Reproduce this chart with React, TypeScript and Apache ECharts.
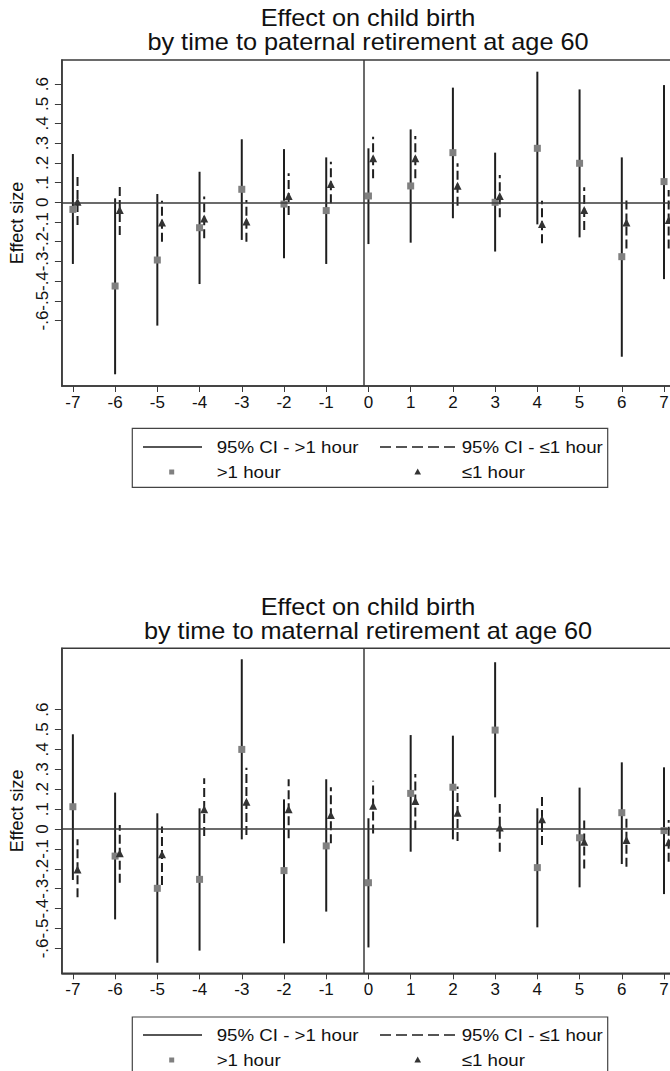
import React, { useEffect, useRef } from "react";
import * as echarts from "echarts";

// ---------- data ----------
const xValues = [-7, -6, -5, -4, -3, -2, -1, 0, 1, 2, 3, 4, 5, 6, 7];
const xTickValues = [-7, -6, -5, -4, -3, -2, -1, 0, 1, 2, 3, 4, 5, 6, 7];
const yTickValues = [-0.6, -0.5, -0.4, -0.3, -0.2, -0.1, 0, 0.1, 0.2, 0.3, 0.4, 0.5, 0.6];

const titleTop = ["Effect on child birth", "by time to paternal retirement at age 60"];
const titleBottom = ["Effect on child birth", "by time to maternal retirement at age 60"];
const legendLabels = ["95% CI - >1 hour", "95% CI - \u22641 hour", ">1 hour", "\u22641 hour"];

// Paternal retirement (top panel)
const patMoreEst = [-0.036, -0.425, -0.293, -0.129, 0.066, -0.009, -0.042, 0.032, 0.083, 0.252, 0.0, 0.274, 0.198, -0.276, 0.105];
const patMoreLo = [-0.313, -0.873, -0.626, -0.415, -0.191, -0.284, -0.313, -0.212, -0.205, -0.081, -0.25, -0.112, -0.178, -0.784, -0.39];
const patMoreHi = [0.245, 0.02, 0.042, 0.155, 0.32, 0.27, 0.228, 0.274, 0.37, 0.582, 0.252, 0.663, 0.573, 0.228, 0.595];
const patLessEst = [0.003, -0.039, -0.103, -0.082, -0.098, 0.032, 0.093, 0.223, 0.223, 0.084, 0.032, -0.11, -0.039, -0.103, -0.09];
const patLessLo = [-0.115, -0.166, -0.2, -0.183, -0.2, -0.064, -0.005, 0.122, 0.122, -0.017, -0.076, -0.208, -0.141, -0.234, -0.234];
const patLessHi = [0.13, 0.08, 0.008, 0.03, 0.012, 0.147, 0.206, 0.333, 0.337, 0.198, 0.139, 0.008, 0.076, 0.02, 0.062];

// Maternal retirement (bottom panel)
const matMoreEst = [0.112, -0.136, -0.298, -0.253, 0.4, -0.209, -0.085, -0.27, 0.179, 0.21, 0.497, -0.194, -0.044, 0.082, -0.008];
const matMoreLo = [-0.256, -0.454, -0.672, -0.611, -0.052, -0.574, -0.415, -0.595, -0.114, -0.052, 0.159, -0.494, -0.293, -0.176, -0.327];
const matMoreHi = [0.476, 0.183, 0.079, 0.104, 0.853, 0.149, 0.25, 0.054, 0.472, 0.469, 0.838, 0.104, 0.208, 0.335, 0.31];
const matLessEst = [-0.203, -0.122, -0.127, 0.099, 0.137, 0.099, 0.07, 0.117, 0.141, 0.082, 0.008, 0.049, -0.064, -0.055, -0.067];
const matLessLo = [-0.343, -0.27, -0.281, -0.035, -0.03, -0.047, -0.072, -0.022, -0.002, -0.06, -0.114, -0.08, -0.198, -0.189, -0.164];
const matLessHi = [-0.052, 0.02, 0.012, 0.255, 0.308, 0.25, 0.21, 0.243, 0.276, 0.213, 0.126, 0.174, 0.054, 0.07, 0.045];

const refLineX = -0.1;
const refLineY = 0;

// ---------- styling constants ----------
const FONT = '"Liberation Sans", Arial, Helvetica, sans-serif';
const TRI_OFFSET = 0.11;
const LINE_COLOR = "#1e1e1e";
const SQUARE_COLOR = "#808080";
const TRI_COLOR = "#333333";
const FRAME_COLOR = "#3a3a3a";

const fmtY = (v: number) => {
  if (Math.abs(v) < 1e-9) return "0";
  return (v < 0 ? "-" : "") + "." + Math.round(Math.abs(v) * 10);
};

function ciSeries(idx: number, xs: number[], lo: number[], hi: number[], offset: number, dashed: boolean) {
  return {
    type: "custom",
    xAxisIndex: idx,
    yAxisIndex: idx,
    silent: true,
    encode: { x: 0, y: [1, 2] },
    data: xs.map((x, i) => [x + offset, lo[i], hi[i]]),
    renderItem: (params: any, api: any) => {
      const p1 = api.coord([api.value(0), api.value(1)]);
      const p2 = api.coord([api.value(0), api.value(2)]);
      return {
        type: "line",
        shape: { x1: p1[0], y1: p1[1], x2: p2[0], y2: p2[1] },
        style: {
          stroke: LINE_COLOR,
          lineWidth: 2,
          lineDash: dashed ? [9, 4] : null,
          fill: null,
        },
      };
    },
  };
}

function pointSeries(idx: number, xs: number[], ys: number[], offset: number, symbol: string, size: number, color: string, withRef: boolean) {
  const s: any = {
    type: "scatter",
    xAxisIndex: idx,
    yAxisIndex: idx,
    silent: true,
    symbol,
    symbolSize: size,
    itemStyle: { color, opacity: 1 },
    data: xs.map((x, i) => [x + offset, ys[i]]),
  };
  if (withRef) {
    s.markLine = {
      silent: true,
      symbol: ["none", "none"],
      label: { show: false },
      lineStyle: { color: FRAME_COLOR, type: "solid", width: 1.5 },
      data: [{ yAxis: refLineY }, { xAxis: refLineX }],
    };
  }
  return s;
}

function xAxisCfg(idx: number) {
  return {
    gridIndex: idx,
    type: "value",
    min: -7.26,
    max: 7.26,
    axisLine: { show: true, onZero: false, lineStyle: { color: FRAME_COLOR, width: 1.5 } },
    axisTick: { show: true, length: 6, customValues: xTickValues, lineStyle: { color: FRAME_COLOR, width: 1 } },
    axisLabel: {
      customValues: xTickValues,
      fontSize: 17,
      fontFamily: FONT,
      color: "#111",
      margin: 8,
      formatter: (v: number) => String(v),
    },
    splitLine: { show: false },
  };
}

function yAxisCfg(idx: number, min: number, max: number) {
  return {
    gridIndex: idx,
    type: "value",
    min,
    max,
    name: "Effect size",
    nameLocation: "middle",
    nameGap: 31,
    nameRotate: 90,
    nameTextStyle: { fontSize: 18, fontFamily: FONT, color: "#111" },
    axisLine: { show: true, onZero: false, lineStyle: { color: FRAME_COLOR, width: 1.5 } },
    axisTick: { show: true, length: 7, customValues: yTickValues, lineStyle: { color: FRAME_COLOR, width: 1 } },
    axisLabel: {
      customValues: yTickValues,
      rotate: 90,
      fontSize: 17,
      fontFamily: FONT,
      color: "#111",
      margin: 11,
      formatter: (v: number) => fmtY(v),
    },
    splitLine: { show: false },
  };
}

function titleGraphics(lines: string[], cx: number, y1: number, y2: number) {
  return lines.map((t, i) => ({
    type: "text",
    x: cx,
    y: i === 0 ? y1 : y2,
    scaleX: 1.1,
    silent: true,
    style: { text: t, font: `23px ${FONT}`, fill: "#111", align: "center", verticalAlign: "middle" },
  }));
}

function legendGraphics(top: number, row1: number, row2: number) {
  const txt = (t: string, x: number, y: number) => ({
    type: "text",
    x,
    y,
    scaleX: 1.1,
    silent: true,
    style: { text: t, font: `17px ${FONT}`, fill: "#111", align: "left", verticalAlign: "middle" },
  });
  return [
    {
      type: "rect",
      silent: true,
      shape: { x: 132.3, y: top, width: 475.4, height: 59 },
      style: { fill: "#fff", stroke: "#444", lineWidth: 1.2 },
    },
    {
      type: "line",
      silent: true,
      shape: { x1: 143, y1: row1, x2: 202, y2: row1 },
      style: { stroke: LINE_COLOR, lineWidth: 1.5 },
    },
    {
      type: "line",
      silent: true,
      shape: { x1: 380, y1: row1, x2: 455, y2: row1 },
      style: { stroke: LINE_COLOR, lineWidth: 1.5, lineDash: [11, 5] },
    },
    {
      type: "rect",
      silent: true,
      shape: { x: 169.2, y: row2 - 2.5, width: 5, height: 5 },
      style: { fill: SQUARE_COLOR },
    },
    {
      type: "polygon",
      silent: true,
      shape: { points: [[417.7, row2 - 3.5], [421, row2 + 2.5], [414.4, row2 + 2.5]] },
      style: { fill: TRI_COLOR },
    },
    txt(legendLabels[0], 216.7, row1),
    txt(legendLabels[1], 461.7, row1),
    txt(legendLabels[2], 216.7, row2),
    txt(legendLabels[3], 461.7, row2),
  ];
}

export default function App() {
  const ref = useRef<HTMLDivElement>(null);

  useEffect(() => {
    if (!ref.current) return;
    const chart = echarts.init(ref.current, null, { renderer: "svg" });
    const option: any = {
      animation: false,
      backgroundColor: "#ffffff",
      textStyle: { fontFamily: FONT },
      grid: [
        { left: 61, width: 614, top: 60, height: 326, show: true, borderColor: FRAME_COLOR, borderWidth: 1.5, backgroundColor: "transparent" },
        { left: 61, width: 614, top: 648.3, height: 325, show: true, borderColor: FRAME_COLOR, borderWidth: 1.5, backgroundColor: "transparent" },
      ],
      xAxis: [xAxisCfg(0), xAxisCfg(1)],
      yAxis: [yAxisCfg(0, -0.9325, 0.7223), yAxisCfg(1, -0.725, 0.908)],
      series: [
        ciSeries(0, xValues, patMoreLo, patMoreHi, 0, false),
        pointSeries(0, xValues, patMoreEst, 0, "rect", 7, SQUARE_COLOR, true),
        ciSeries(0, xValues, patLessLo, patLessHi, TRI_OFFSET, true),
        pointSeries(0, xValues, patLessEst, TRI_OFFSET, "triangle", 8, TRI_COLOR, false),
        ciSeries(1, xValues, matMoreLo, matMoreHi, 0, false),
        pointSeries(1, xValues, matMoreEst, 0, "rect", 7, SQUARE_COLOR, true),
        ciSeries(1, xValues, matLessLo, matLessHi, TRI_OFFSET, true),
        pointSeries(1, xValues, matLessEst, TRI_OFFSET, "triangle", 8, TRI_COLOR, false),
      ],
      graphic: [
        ...titleGraphics(titleTop, 368, 18, 42),
        ...titleGraphics(titleBottom, 368, 606.5, 630.5),
        ...legendGraphics(428.3, 447, 472),
        ...legendGraphics(1017, 1035, 1060),
      ],
    };
    chart.setOption(option);
    return () => chart.dispose();
  }, []);

  return (
    <div style={{ position: "absolute", left: 0, top: 0, width: 670, height: 1071, overflow: "hidden", background: "#fff" }}>
      <div ref={ref} style={{ width: 690, height: 1071 }} />
    </div>
  );
}
